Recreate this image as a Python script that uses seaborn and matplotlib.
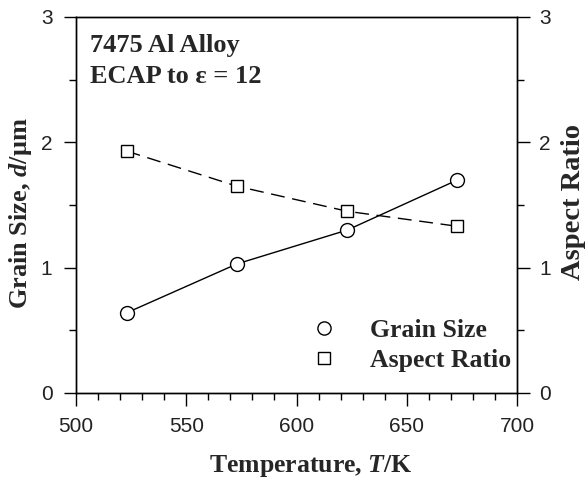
import matplotlib
matplotlib.use("Agg")
import matplotlib.pyplot as plt
import seaborn as sns
import pandas as pd
from matplotlib.lines import Line2D
from matplotlib.ticker import MultipleLocator

temperature = [523, 573, 623, 673]
grain_size = [0.64, 1.03, 1.30, 1.70]
aspect_ratio = [1.93, 1.65, 1.45, 1.33]

sns.set_theme(style="white")
plt.rcParams["font.family"] = ["Liberation Sans", "DejaVu Sans"]
plt.rcParams["mathtext.fontset"] = "custom"
plt.rcParams["mathtext.rm"] = "Liberation Serif:bold"
plt.rcParams["mathtext.it"] = "Liberation Serif:italic:bold"
plt.rcParams["mathtext.bf"] = "Liberation Serif:bold"

df = pd.DataFrame({"T": temperature, "d": grain_size, "ar": aspect_ratio})

W, H = 586, 479
fig = plt.figure(figsize=(W / 100, H / 100), dpi=100)
ax = fig.add_axes([76 / W, 1 - 393 / H, (517 - 76) / W, (393 - 17) / H])
ax2 = ax.twinx()

sns.lineplot(data=df, x="T", y="d", ax=ax, color="black", lw=1.0,
             marker="o", markersize=10, markerfacecolor="white",
             markeredgecolor="black", markeredgewidth=1.0)
sns.lineplot(data=df, x="T", y="ar", ax=ax2, color="black", lw=1.0,
             marker="s", markersize=9, markerfacecolor="white",
             markeredgecolor="black", markeredgewidth=1.0,
             dashes=False, linestyle=(0, (10, 5.5)))

for a in (ax, ax2):
    a.set_xlim(500, 700)
    a.set_ylim(0, 3)
    a.yaxis.set_major_locator(MultipleLocator(1))
    a.yaxis.set_minor_locator(MultipleLocator(0.5))
    for s in a.spines.values():
        s.set_color("black")
        s.set_linewidth(1.0)

ax.xaxis.set_major_locator(MultipleLocator(50))
ax.xaxis.set_minor_locator(MultipleLocator(10))
ax.tick_params(axis="both", which="major", direction="out", length=9, width=1,
               color="black", labelsize=15, labelcolor="#222222", pad=8)
ax.tick_params(axis="both", which="minor", direction="out", length=5, width=1,
               color="black")
ax.tick_params(axis="x", which="both", bottom=True)
ax.tick_params(axis="y", which="both", left=True)
ax2.tick_params(axis="y", which="major", direction="out", length=9, width=1,
                color="black", labelsize=15, labelcolor="#222222", right=True,
                pad=7)
ax2.tick_params(axis="y", which="minor", direction="out", length=5, width=1,
                color="black", right=True)

ax.set_xlabel(r"Temperature, $\mathit{T}$/K", family="Liberation Serif",
              fontweight="bold", fontsize=18.5)
ax.set_ylabel(r"Grain Size, $\mathit{d}$/μm", family="Liberation Serif",
              fontweight="bold", fontsize=19)
ax2.set_ylabel("Aspect Ratio", family="Liberation Serif", fontweight="bold",
               fontsize=20.5)
ax.xaxis.label.set_va("center")
ax.xaxis.set_label_coords((311 - 76) / 441, (393 - 466) / 376)
ax.yaxis.label.set_va("center")
ax.yaxis.set_label_coords((21 - 76) / 441, 0.479)
ax2.yaxis.label.set_va("center")
ax2.yaxis.set_label_coords((573 - 76) / 441, 0.509)

ax.text(0.032, 0.907, "7475 Al Alloy", transform=ax.transAxes,
        family="Liberation Serif", fontweight="bold", fontsize=19, va="baseline")
ax.text(0.032, 0.824, "ECAP to ε = 12", transform=ax.transAxes,
        family="Liberation Serif", fontweight="bold", fontsize=19, va="baseline")

handles = [
    Line2D([], [], linestyle="none", marker="o", markersize=9.5,
           markerfacecolor="white", markeredgecolor="black"),
    Line2D([], [], linestyle="none", marker="s", markersize=8.5,
           markerfacecolor="white", markeredgecolor="black"),
]
if ax2.get_legend():
    ax2.get_legend().remove()
ax.legend(handles, ["Grain Size", "Aspect Ratio"], loc="center left",
          bbox_to_anchor=(298 / W, 1 - 345.5 / H),
          bbox_transform=fig.transFigure, frameon=False,
          handlelength=2.0, handletextpad=0.82, borderpad=0, borderaxespad=0,
          prop={"family": "Liberation Serif", "weight": "bold", "size": 18.5},
          labelspacing=0.27)

fig.savefig("out.png", dpi=100)
